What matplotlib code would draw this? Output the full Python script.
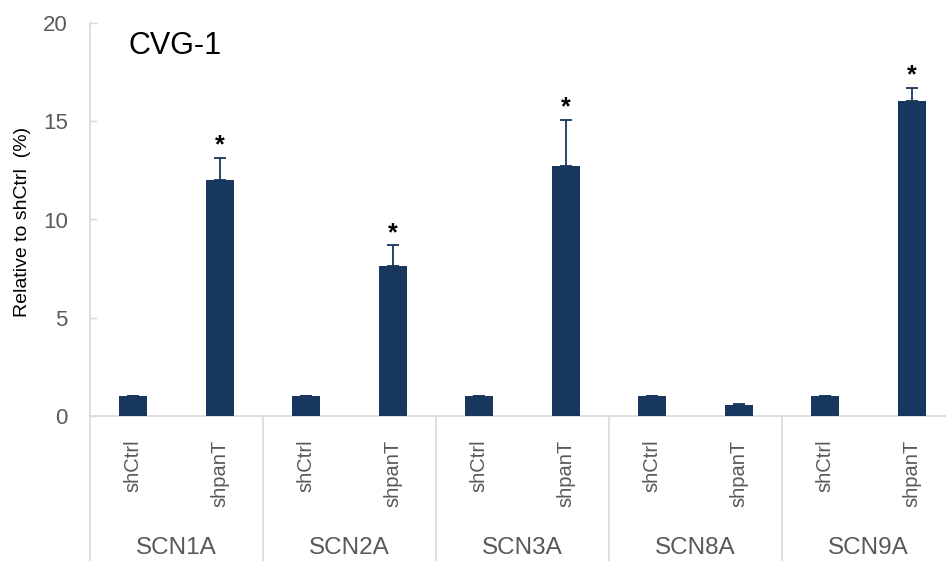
import numpy as np
import matplotlib
matplotlib.use("Agg")
import matplotlib.pyplot as plt
import matplotlib.transforms as mtransforms
from matplotlib.lines import Line2D

plt.rcParams["font.family"] = ["Liberation Sans", "DejaVu Sans"]

genes = ["SCN1A", "SCN2A", "SCN3A", "SCN8A", "SCN9A"]
conditions = ["shCtrl", "shpanT"]
ctrl_mean = [1.0, 1.0, 1.0, 1.0, 1.0]
ctrl_err = [0.04, 0.04, 0.04, 0.04, 0.04]
pant_mean = [12.0, 7.63, 12.72, 0.56, 16.03]
pant_err = [1.12, 1.05, 2.34, 0.07, 0.66]
significant = [True, True, True, False, True]

bar_color = "#17375e"
axis_color = "#d9d9d9"
text_gray = "#595959"

W, H = 946, 561
fig = plt.figure(figsize=(W / 100, H / 100), dpi=100)
# axes goes a bit past the right edge, like the cropped original
ax = fig.add_axes([90 / W, (H - 416) / H, 865 / W, (416 - 23) / H])

n = len(genes)
x_ctrl = np.arange(n) * 2
x_pant = x_ctrl + 1
bw = 0.32

ax.bar(x_ctrl, ctrl_mean, width=bw, color=bar_color, zorder=3)
ax.bar(x_pant, pant_mean, width=bw, color=bar_color, zorder=3)
ax.errorbar(x_ctrl, ctrl_mean, yerr=[np.zeros(n), ctrl_err], fmt="none",
            ecolor=bar_color, elinewidth=1.3, capsize=4.3, capthick=1.3, zorder=4)
ax.errorbar(x_pant, pant_mean, yerr=[np.zeros(n), pant_err], fmt="none",
            ecolor=bar_color, elinewidth=1.3, capsize=4.3, capthick=1.3, zorder=4)

for xi, m, e, s in zip(x_pant, pant_mean, pant_err, significant):
    if s:
        ax.annotate("*", (xi, m + e), xytext=(0, 9), textcoords="offset points",
                    ha="center", va="center", fontsize=18, fontweight="bold",
                    color="black")

ax.set_xlim(-0.5, 2 * n - 0.5)
ax.set_ylim(0, 20)
ax.set_yticks([0, 5, 10, 15, 20])
ax.tick_params(axis="y", direction="in", length=5, width=1, color=axis_color,
               labelsize=16, labelcolor=text_gray, pad=16)

xt = np.concatenate([x_ctrl, x_pant])
xl = [conditions[0]] * n + [conditions[1]] * n
ax.set_xticks(xt)
ax.set_xticklabels(xl, rotation=90, fontsize=14.5, color=text_gray)
ax.tick_params(axis="x", length=0, pad=17)

for side in ["top", "right"]:
    ax.spines[side].set_visible(False)
for side in ["left", "bottom"]:
    ax.spines[side].set_color(axis_color)
    ax.spines[side].set_linewidth(1.2)

# group separators below the axis
trans = mtransforms.blended_transform_factory(ax.transData, fig.transFigure)
y_axis = (H - 416) / H
for i in range(n):
    xs = 2 * i - 0.5
    fig.add_artist(Line2D([xs, xs], [0, y_axis], transform=trans,
                          color=axis_color, lw=1.2, clip_on=False))
    ax.text(2 * i + 0.5, 1 - 548 / H, genes[i], transform=trans,
            ha="center", va="center", fontsize=17.5, color=text_gray)

fig.text(22.5 / W, 1 - 221.5 / H, "Relative to shCtrl  (%)", rotation=90,
         ha="center", va="center", fontsize=14, color="black")
fig.text(128 / W, 1 - 46 / H, "CVG-1", ha="left", va="center",
         fontsize=22, color="black")

fig.savefig("out.png", dpi=100)
